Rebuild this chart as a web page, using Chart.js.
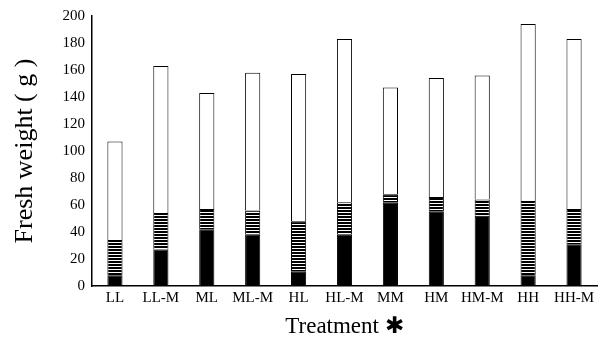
<!DOCTYPE html>
<html>
<head>
<meta charset="utf-8">
<script src="https://cdn.jsdelivr.net/npm/chart.js@4.4.1/dist/chart.umd.min.js"></script>
<style>
	body { margin: 0; background: #fff; }
	#wrap { width: 604px; height: 342px; }
</style>
</head>
<body>
<div id="wrap"><canvas id="chart" width="604" height="342"></canvas></div>
<script>
// --- Data ---
const treatments = ["LL", "LL-M", "ML", "ML-M", "HL", "HL-M", "MM", "HM", "HM-M", "HH", "HH-M"];
// bottom (black) segment
const blackPart = [8, 27, 42, 38, 11, 38, 62, 55, 52, 8, 31];
// middle (striped) segment
const stripedPart = [26, 27, 15, 18, 37, 24, 6, 11, 12, 55, 26];
// top (white) segment
const whitePart = [73, 109, 86, 102, 109, 121, 79, 88, 92, 131, 126];
const yTicks = [0, 20, 40, 60, 80, 100, 120, 140, 160, 180, 200];

// horizontal stripe fill for the middle segment
function stripePattern() {
	const c = document.createElement("canvas");
	c.width = 4;
	c.height = 3;
	const g = c.getContext("2d");
	g.fillStyle = "#fff";
	g.fillRect(0, 0, 4, 3);
	g.fillStyle = "#000";
	g.fillRect(0, 0, 4, 2);
	return g.createPattern(c, "repeat");
}

const serif = "'Liberation Serif', 'DejaVu Serif', serif";

document.addEventListener("DOMContentLoaded", function() {
	const ctx = document.getElementById("chart").getContext("2d");
	const common = { borderColor: "#000", borderWidth: 1, barPercentage: 0.33, categoryPercentage: 1.0 };
	new Chart(ctx, {
		type: "bar",
		data: {
			labels: treatments,
			datasets: [
				Object.assign({ label: "black", data: blackPart, backgroundColor: "#000" }, common),
				Object.assign({ label: "striped", data: stripedPart, backgroundColor: stripePattern() }, common),
				Object.assign({ label: "white", data: whitePart, backgroundColor: "#fff" }, common)
			]
		},
		options: {
			responsive: false,
			animation: false,
			layout: { padding: { top: 16, right: 7, left: 10, bottom: 0 } },
			plugins: { legend: { display: false }, tooltip: { enabled: false } },
			scales: {
				x: {
					stacked: true,
					afterFit: (scale) => { scale.height = 56; },
					grid: { display: false, drawTicks: false },
					border: { display: true, color: "#000", width: 1.5 },
					ticks: { color: "#000", padding: 3, maxRotation: 0, autoSkip: false, font: { family: serif, size: 15 } },
					title: { display: true, text: "Treatment ✱", color: "#000", padding: { top: 0, bottom: 1 }, font: { family: serif, size: 23 } }
				},
				y: {
					stacked: true,
					min: 0,
					max: 200,
					afterFit: (scale) => { scale.width = 82; },
					afterBuildTicks: (scale) => { scale.ticks = yTicks.map((v) => ({ value: v })); },
					grid: { display: false, drawTicks: false },
					border: { display: true, color: "#000", width: 1.5 },
					ticks: { color: "#000", padding: 7, font: { family: serif, size: 15 } },
					title: { display: true, text: "Fresh weight ( g )", color: "#000", padding: { top: 0, bottom: 0 }, font: { family: serif, size: 26 } }
				}
			}
		}
	});
});
</script>
</body>
</html>
